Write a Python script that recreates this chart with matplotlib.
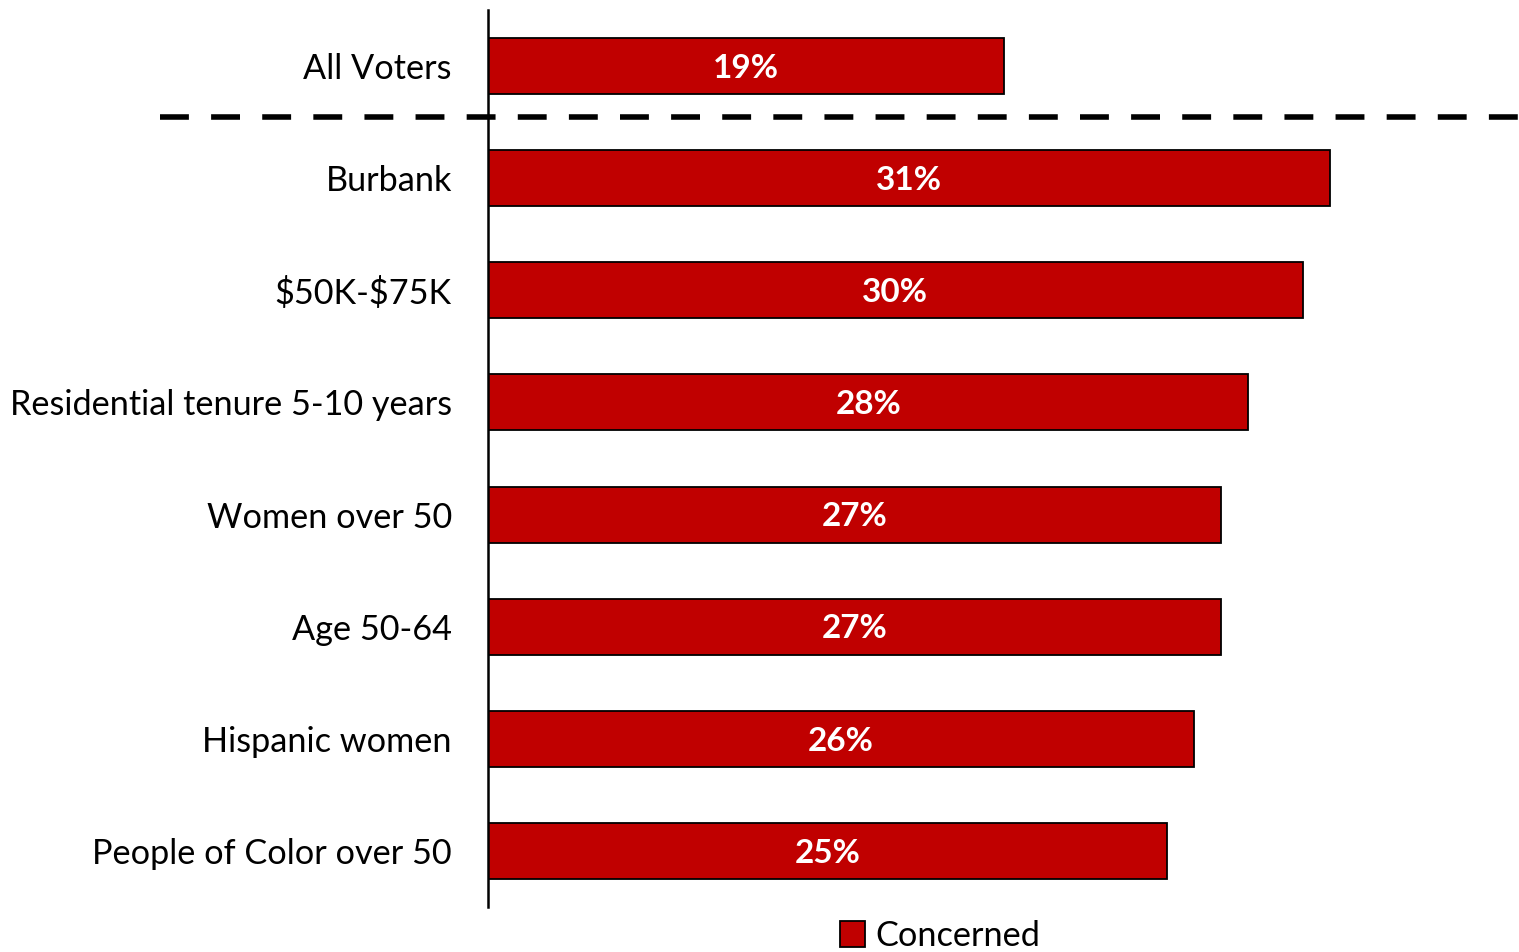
import matplotlib
matplotlib.use("Agg")
import matplotlib.pyplot as plt
from matplotlib.lines import Line2D
from matplotlib.patches import Patch
import matplotlib.transforms as mtransforms

plt.rcParams['font.family'] = ['Lato', 'DejaVu Sans']
plt.rcParams['text.parse_math'] = False

categories = [
    "All Voters",
    "Burbank",
    "$50K-$75K",
    "Residential tenure 5-10 years",
    "Women over 50",
    "Age 50-64",
    "Hispanic women",
    "People of Color over 50",
]
concerned = [19, 31, 30, 28, 27, 27, 26, 25]
series_name = "Concerned"

bar_color = "#C00000"

fig = plt.figure(figsize=(15.19, 9.52), dpi=100)
ax = fig.add_axes([488 / 1519, 1 - 907 / 952, (1519 - 488) / 1519, (907 - 10) / 952])

ypos = list(range(len(categories)))
bars = ax.barh(ypos, concerned, height=0.5, color=bar_color,
               edgecolor="black", linewidth=1.3)

for b, v in zip(bars, concerned):
    ax.text(b.get_width() / 2, b.get_y() + b.get_height() / 2 + 0.02, f"{v}%",
            ha="center", va="center", color="white", fontsize=24,
            fontweight="bold")

ax.set_xlim(0, 37.96)
ax.set_ylim(len(categories) - 0.5, -0.5)
ax.set_yticks(ypos)
ax.set_yticklabels(categories, fontsize=24.7)
ax.tick_params(axis="y", length=0, pad=26)
ax.set_xticks([])
for side in ("top", "right", "bottom"):
    ax.spines[side].set_visible(False)
ax.spines["left"].set_linewidth(1.8)

# dashed separator between the overall figure and the subgroups
trans = mtransforms.blended_transform_factory(fig.transFigure, ax.transData)
sep = Line2D([160 / 1519, 1.0], [0.455, 0.455], transform=trans, color="black",
             linewidth=4, linestyle=(0, (5.2, 4.0)), clip_on=False)
fig.add_artist(sep)

handle = Patch(facecolor=bar_color, edgecolor="black", linewidth=1.3)
fig.legend([handle], [series_name], loc="center", bbox_to_anchor=(940 / 1519, 1 - 936 / 952),
           frameon=False, fontsize=24.7, handlelength=0.75, handleheight=0.75,
           handletextpad=0.3, borderpad=0)

fig.savefig("out.png", dpi=100)
